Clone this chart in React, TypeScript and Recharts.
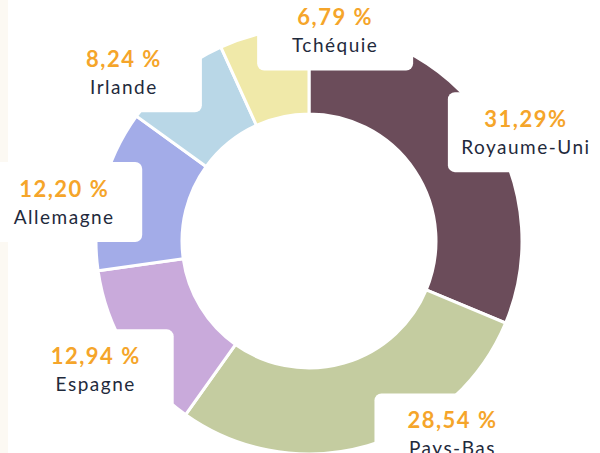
import React from 'react';
import { PieChart, Pie, Cell } from 'recharts';

// share of total, by country (clockwise from 12 o'clock)
const countries = ['Royaume-Uni', 'Pays-Bas', 'Espagne', 'Allemagne', 'Irlande', 'Tchéquie'];
const shares = [31.29, 28.54, 12.94, 12.2, 8.24, 6.79];
const shareLabels = ['31,29%', '28,54 %', '12,94 %', '12,20 %', '8,24 %', '6,79 %'];
const sliceColors = ['#6b4c5a', '#c4cca0', '#c9aadb', '#a3ace8', '#b9d7e7', '#f0e9a9'];

// fine placement of each label card, relative to the point on the mid angle
const LABEL_RADIUS = 245;
const labelNudge = [
  [13, 27],
  [76, -43],
  [-4, 1],
  [-7, 20],
  [-30, 21],
  [78, 29],
];

const data = countries.map((name, i) => ({ name, value: shares[i], label: shareLabels[i] }));

const RAD = Math.PI / 180;

const renderLabel = (props: any) => {
  const { cx, cy, midAngle, index } = props;
  const [nx, ny] = labelNudge[index];
  const x = cx + LABEL_RADIUS * Math.cos(midAngle * RAD) + nx;
  const y = cy - LABEL_RADIUS * Math.sin(midAngle * RAD) + ny;
  const w = 156;
  const h = 80;
  return (
    <g key={`label-${index}`}>
      <rect x={x - w / 2} y={y - h / 2} width={w} height={h} rx={7} fill="#ffffff" />
      <text
        x={x}
        y={y - 14}
        textAnchor="middle"
        dominantBaseline="central"
        fill="#f5a52a"
        fontSize={22}
        fontWeight={700}
        letterSpacing={1.5}
      >
        {data[index].label}
      </text>
      <text
        x={x}
        y={y + 14}
        textAnchor="middle"
        dominantBaseline="central"
        fill="#1f2a3c"
        fontSize={19}
        letterSpacing={1.5}
      >
        {data[index].name}
      </text>
    </g>
  );
};

export default function App() {
  return (
    <div
      style={{
        position: 'absolute',
        left: 0,
        top: 0,
        width: 600,
        height: 453,
        overflow: 'hidden',
        background: '#ffffff',
        fontFamily: 'Lato, "Noto Sans", sans-serif',
      }}
    >
      <div style={{ position: 'absolute', left: 0, top: 0, width: 8, height: 453, background: '#fcf9f3' }} />
      <PieChart width={600} height={453} style={{ position: 'absolute', left: 0, top: 0 }}>
        <Pie
          data={data}
          dataKey="value"
          nameKey="name"
          cx={304}
          cy={236}
          innerRadius={127}
          outerRadius={213}
          startAngle={90}
          endAngle={-270}
          stroke="#ffffff"
          strokeWidth={3}
          label={renderLabel}
          labelLine={false}
          isAnimationActive={false}
        >
          {data.map((d, i) => (
            <Cell key={d.name} fill={sliceColors[i]} />
          ))}
        </Pie>
      </PieChart>
    </div>
  );
}
